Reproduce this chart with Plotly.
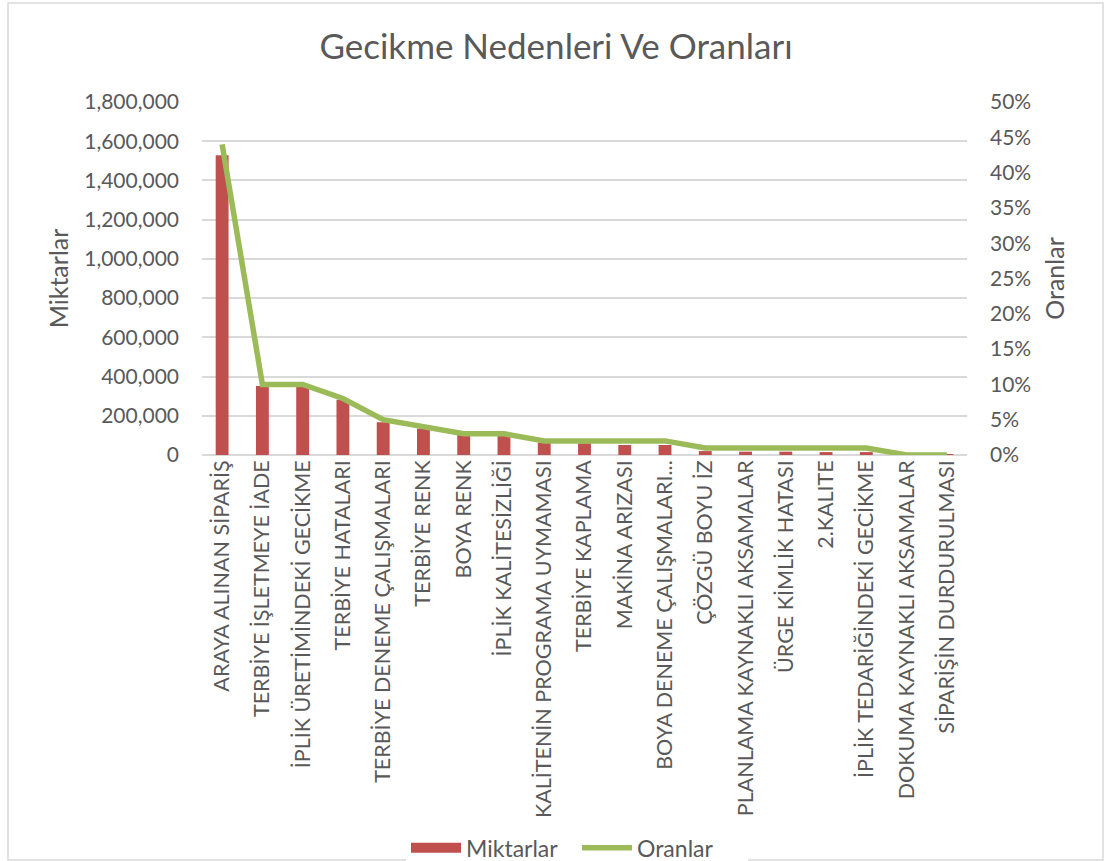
import plotly.graph_objects as go

categories = [
    "ARAYA ALINAN SİPARİŞ",
    "TERBİYE İŞLETMEYE İADE",
    "İPLİK ÜRETİMİNDEKİ GECİKME",
    "TERBİYE HATALARI",
    "TERBİYE DENEME ÇALIŞMALARI",
    "TERBİYE RENK",
    "BOYA RENK",
    "İPLİK KALİTESİZLİĞİ",
    "KALİTENİN PROGRAMA UYMAMASI",
    "TERBİYE KAPLAMA",
    "MAKİNA ARIZASI",
    "BOYA DENEME ÇALIŞMALARI...",
    "ÇÖZGÜ BOYU İZ",
    "PLANLAMA KAYNAKLI AKSAMALAR",
    "ÜRGE KİMLİK HATASI",
    "2.KALITE",
    "İPLİK TEDARİĞİNDEKİ GECİKME",
    "DOKUMA KAYNAKLI AKSAMALAR",
    "SİPARİŞİN DURDURULMASI",
]
miktarlar = [1528000, 352000, 348000, 282000, 167000, 135000, 102000, 97000,
             63000, 60000, 51000, 51000, 20000, 17000, 17000, 15000, 15000, 3000, 1000]
oranlar = [0.44, 0.10, 0.10, 0.08, 0.05, 0.04, 0.03, 0.03, 0.02, 0.02, 0.02,
           0.02, 0.01, 0.01, 0.01, 0.01, 0.01, 0.0, 0.0]

FONT = "Lato"
TXT = "#595959"
GRID = "#d9d9d9"
BAR_C = "#C0504D"
LINE_C = "#9BBB59"

fig = go.Figure()
fig.add_trace(go.Bar(x=categories, y=miktarlar, name="Miktarlar", showlegend=False,
                     marker=dict(color=BAR_C, line=dict(width=0))))
# legend proxy giving the wide red swatch
fig.add_trace(go.Scatter(x=[None], y=[None], name="Miktarlar", mode="lines",
                         line=dict(color=BAR_C, width=13), hoverinfo="skip"))
fig.add_trace(go.Scatter(x=categories, y=oranlar, name="Oranlar", yaxis="y2",
                         mode="lines", line=dict(color=LINE_C, width=5.5)))

W, H = 1105, 861
L, R, T, B = 202, 967, 102, 455
fig.update_layout(
    width=W, height=H,
    margin=dict(l=L, r=W - R, t=T, b=H - B, autoexpand=False),
    paper_bgcolor="white", plot_bgcolor="white",
    font=dict(family=FONT, color=TXT, size=21),
    title=dict(text="Gecikme Nedenleri Ve Oranları", x=556 / W, xref="container",
               xanchor="center", y=1 - 47 / H, yanchor="middle",
               font=dict(size=35, color=TXT, family=FONT)),
    bargap=0.68,
    showlegend=True,
    legend=dict(orientation="h", x=(406 - L) / (R - L), xanchor="left",
                y=-1.113, yanchor="middle",
                font=dict(size=23, color=TXT), itemwidth=50, tracegroupgap=0,
                entrywidth=106, entrywidthmode="pixels"),
    xaxis=dict(type="category", tickangle=-90, showgrid=False, showline=False,
               ticks="", tickfont=dict(size=21.5, color=TXT), automargin=False),
    yaxis=dict(range=[0, 1800000], dtick=200000, tickformat=",", showgrid=True,
               gridcolor=GRID, gridwidth=2, zeroline=True, zerolinecolor=GRID,
               zerolinewidth=2, showline=False, ticks="",
               ticklabelstandoff=22,
               title=dict(text="Miktarlar", font=dict(size=25, color=TXT), standoff=8),
               tickfont=dict(size=21, color=TXT), automargin=False),
    yaxis2=dict(range=[0, 0.5], dtick=0.05, tickformat=".0%", overlaying="y",
                side="right", showgrid=False, zeroline=False, showline=False,
                ticks="", ticklabelstandoff=22,
                title=dict(text="Oranlar", font=dict(size=25, color=TXT), standoff=16),
                tickfont=dict(size=21, color=TXT), automargin=False),
)

# chart-area border
fig.add_shape(type="rect", xref="paper", yref="paper",
              x0=(8 - L) / (R - L), x1=(1103 - L) / (R - L),
              y0=(B - 860) / (B - T), y1=(B - 3) / (B - T),
              line=dict(color="#d9d9d9", width=1.5), fillcolor="rgba(0,0,0,0)",
              layer="below")

fig.write_html("out.html")
